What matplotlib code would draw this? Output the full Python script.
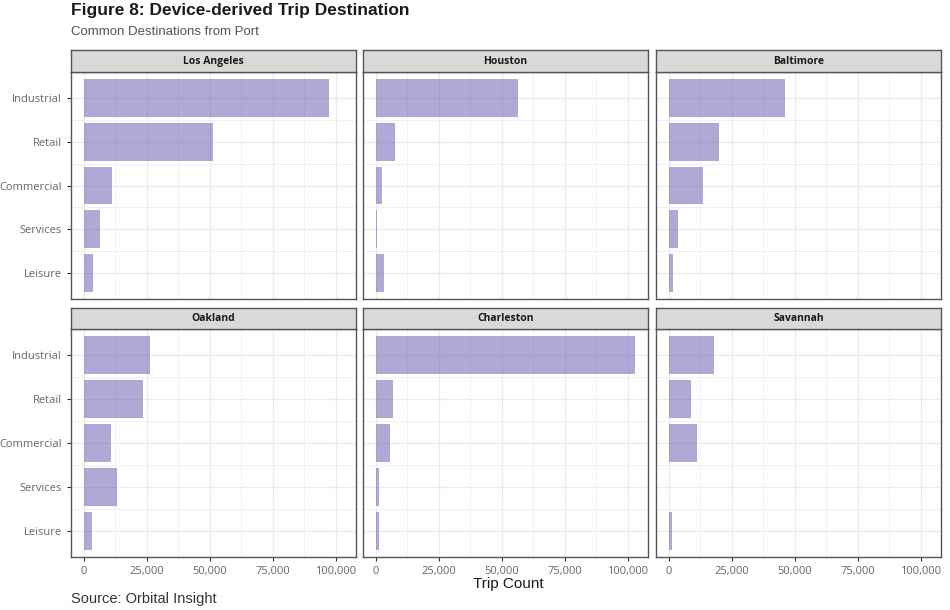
import numpy as np
import matplotlib
matplotlib.use('Agg')
import matplotlib.pyplot as plt
from matplotlib.ticker import FuncFormatter, MultipleLocator

# data
ports = ['Los Angeles', 'Houston', 'Baltimore', 'Oakland', 'Charleston', 'Savannah']
categories = ['Industrial', 'Retail', 'Commercial', 'Services', 'Leisure']
los_angeles = [97200, 51300, 11000, 6300, 3500]
houston = [56500, 7500, 2400, 600, 3100]
baltimore = [46200, 19900, 13400, 3400, 1700]
oakland = [26100, 23600, 10700, 13000, 3000]
charleston = [102800, 6700, 5500, 1300, 1300]
savannah = [17800, 8800, 11000, 0, 1200]
x_ticks = [0, 25000, 50000, 75000, 100000]

values = [los_angeles, houston, baltimore, oakland, charleston, savannah]

W, H = 950, 610
fig = plt.figure(figsize=(9.5, 6.1), dpi=100)

col_left = [71, 363, 656]
panel_w = 285
rows = [(72, 299, 50), (329, 557, 308)]   # body top, body bottom, strip top

bar_color = '#6355ad'
grid_col = '#ebebeb'
border = '#555555'
tick_col = '#666666'

xmax = max(max(v) for v in values)
xlim = (-0.05 * xmax, 1.05 * xmax)
ypos = np.arange(len(categories))[::-1]

for i, port in enumerate(ports):
    r, c = divmod(i, 3)
    top, bot, stop = rows[r]
    x0 = col_left[c]
    ax = fig.add_axes([x0 / W, 1 - bot / H, panel_w / W, (bot - top) / H])
    ax.set_axisbelow(True)
    ax.barh(ypos, values[i], height=0.86, color=bar_color, alpha=0.5, zorder=3)
    ax.set_xlim(*xlim)
    ax.set_ylim(-0.6, len(categories) - 0.4)
    ax.xaxis.set_major_locator(MultipleLocator(25000))
    ax.xaxis.set_minor_locator(MultipleLocator(12500))
    ax.set_yticks(ypos)
    ax.set_yticks(ypos[:-1] - 0.5, minor=True)
    ax.grid(which='major', color=grid_col, lw=0.9, zorder=0)
    ax.grid(which='minor', color=grid_col, lw=0.5, zorder=0)
    for s in ax.spines.values():
        s.set_color(border)
        s.set_linewidth(1.0)
    ax.tick_params(which='minor', length=0)
    ax.tick_params(which='major', color='#333333', length=3, width=0.8,
                   labelcolor=tick_col, labelsize=8)
    if c == 0:
        ax.set_yticklabels(categories, family='Open Sans')
    else:
        ax.set_yticklabels([])
        ax.tick_params(axis='y', length=0)
    if r == 1:
        ax.set_xticks(x_ticks)
        ax.xaxis.set_major_formatter(FuncFormatter(lambda v, p: f'{int(v):,}'))
        for lab in ax.get_xticklabels():
            lab.set_family('Open Sans')
    else:
        ax.set_xticklabels([])
        ax.tick_params(axis='x', length=0)

    sax = fig.add_axes([x0 / W, 1 - top / H, panel_w / W, (top - stop) / H])
    sax.set_facecolor('#d9d9d9')
    sax.set_xticks([])
    sax.set_yticks([])
    for s in sax.spines.values():
        s.set_color(border)
        s.set_linewidth(1.0)
    sax.text(0.5, 0.48, port, ha='center', va='center', fontsize=7.5,
             fontweight='bold', family='Open Sans', color='#1a1a1a',
             transform=sax.transAxes)

fig.text(71 / W, 1 - 3 / H, 'Figure 8: Device-derived Trip Destination',
         ha='left', va='top', fontsize=12.5, fontweight='bold',
         family=['Liberation Sans', 'DejaVu Sans'], color='#1a1a1a')
fig.text(71 / W, 1 - 26 / H, 'Common Destinations from Port',
         ha='left', va='top', fontsize=9.5, color='#555555',
         family=['Liberation Sans', 'DejaVu Sans'])
fig.text(508 / W, 1 - 584 / H, 'Trip Count', ha='center', va='center',
         fontsize=11, color='#1a1a1a', family=['Liberation Sans', 'DejaVu Sans'])
fig.text(71 / W, 1 - 599 / H, 'Source: Orbital Insight', ha='left', va='center',
         fontsize=10.5, color='#333333', family=['Liberation Sans', 'DejaVu Sans'])

fig.savefig('out.png', dpi=100)
